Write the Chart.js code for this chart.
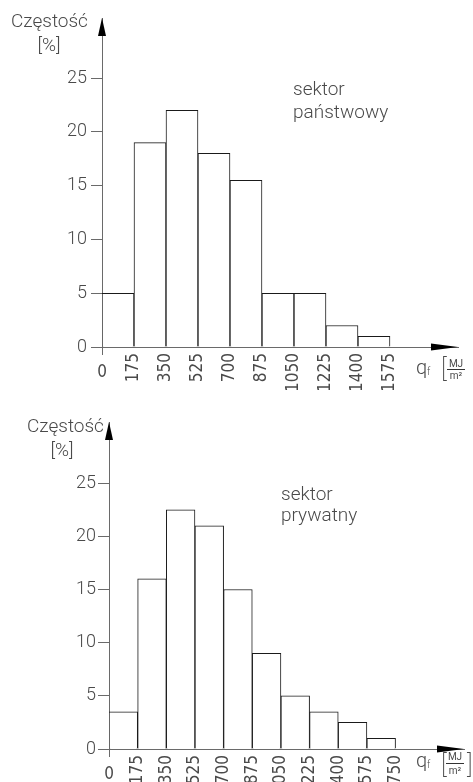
<!DOCTYPE html>
<html>
<head>
<meta charset="utf-8">
<script src="https://cdn.jsdelivr.net/npm/chart.js@4.4.1/dist/chart.umd.min.js"></script>
<style>
  html, body { margin: 0; padding: 0; background: #fff; overflow: hidden; }
  .box { position: absolute; left: 0; width: 473px; }
  #boxTop { top: 0; height: 390px; }
  #boxBottom { top: 390px; height: 392px; }
</style>
</head>
<body>
<div class="box" id="boxTop"><canvas id="chartTop"></canvas></div>
<div class="box" id="boxBottom"><canvas id="chartBottom"></canvas></div>
<script>
// bin edges (MJ/m2) and frequencies (%)
const edgesTop = [0, 175, 350, 525, 700, 875, 1050, 1225, 1400, 1575];
const freqTop = [5, 19, 22, 18, 15.5, 5, 5, 2, 1];
const edgesBottom = [0, 175, 350, 525, 700, 875, 1050, 1225, 1400, 1575, 1750];
const freqBottom = [3.5, 16, 22.5, 21, 15, 9, 5, 3.5, 2.5, 1];
const yTicks = [0, 5, 10, 15, 20, 25];
const yTitle = ['Częstość', '[%]'];
const sectorTop = ['sektor', 'państwowy'];
const sectorBottom = ['sektor', 'prywatny'];
const xSymbol = 'q';
const xSub = 'f';
const unitNum = 'MJ';
const unitDen = 'm²';

const lightFont = '300 19px Roboto, "DejaVu Sans", sans-serif';
const narrowFamily = '"Liberation Sans Narrow", "DejaVu Sans Condensed", Roboto, sans-serif';
const textColor = '#4a4a4a';
const axisColor = '#6a6a6a';

function makeChart(canvas, edges, freq, sector, g) {
    const points = freq.map((v, i) => ({ x: (edges[i] + edges[i + 1]) / 2, y: v }));

    const decor = {
        id: 'decor',
        afterDraw(chart) {
            const ctx = chart.ctx;
            const a = chart.chartArea;
            const xs = chart.scales.x;
            ctx.save();
            // arrows
            ctx.fillStyle = '#000';
            ctx.beginPath();
            ctx.moveTo(a.left, a.top);
            ctx.lineTo(a.left - 4, a.top + 18);
            ctx.lineTo(a.left + 4, a.top + 18);
            ctx.closePath();
            ctx.fill();
            ctx.beginPath();
            ctx.moveTo(a.right, a.bottom);
            ctx.lineTo(a.right - 27, a.bottom - 3.5);
            ctx.lineTo(a.right - 27, a.bottom + 3.5);
            ctx.closePath();
            ctx.fill();

            ctx.fillStyle = textColor;
            ctx.font = lightFont;
            ctx.textBaseline = 'alphabetic';
            ctx.textAlign = 'left';
            ctx.fillText(yTitle[0], g.titleX, g.titleY);
            ctx.textAlign = 'center';
            ctx.fillText(yTitle[1], g.pctX, g.pctY);
            ctx.textAlign = 'left';
            ctx.fillText(sector[0], g.secX, g.secY);
            ctx.fillText(sector[1], g.secX, g.secY + g.secGap);

            // upright zero label
            ctx.font = '17px ' + narrowFamily;
            ctx.textAlign = 'center';
            ctx.textBaseline = 'middle';
            ctx.fillText('0', xs.getPixelForValue(edges[0]), g.zeroY);

            // q_f [MJ/m2]
            ctx.textBaseline = 'alphabetic';
            ctx.textAlign = 'left';
            ctx.font = '300 20px Roboto, sans-serif';
            ctx.fillText(xSymbol, g.qX, g.qY);
            ctx.font = '300 10px Roboto, sans-serif';
            ctx.fillText(xSub, g.qX + 11, g.qY + 1);
            ctx.font = '200 25px Roboto, sans-serif';
            ctx.fillText('[', g.brL, g.brY);
            ctx.fillText(']', g.brR, g.brY);
            ctx.font = '400 10px Roboto, sans-serif';
            ctx.textAlign = 'center';
            ctx.fillText(unitNum, g.fracX, g.numY);
            ctx.fillText(unitDen, g.fracX, g.denY);
            ctx.strokeStyle = '#333';
            ctx.lineWidth = 1;
            ctx.beginPath();
            ctx.moveTo(g.fracX - 9, g.lineY);
            ctx.lineTo(g.fracX + 9, g.lineY);
            ctx.stroke();
            ctx.restore();
        }
    };

    return new Chart(canvas, {
        type: 'bar',
        data: {
            datasets: [{
                data: points,
                backgroundColor: '#fff',
                borderColor: '#1a1a1a',
                borderWidth: 1,
                barPercentage: 1,
                categoryPercentage: 1,
            }],
        },
        options: {
            responsive: true,
            maintainAspectRatio: false,
            animation: false,
            events: [],
            layout: { padding: { left: 0, top: g.top, right: 473 - g.right, bottom: 0 } },
            plugins: { legend: { display: false }, tooltip: { enabled: false } },
            scales: {
                x: {
                    type: 'linear',
                    offset: false,
                    min: 0,
                    max: g.xMax,
                    afterBuildTicks: (s) => { s.ticks = edges.map(v => ({ value: v })); },
                    afterFit: (s) => { s.height = g.h - g.bottom; },
                    grid: {
                        offset: false,
                        drawOnChartArea: false,
                        tickLength: 8,
                        color: (c) => (c.tick && c.tick.value === 0 ? axisColor : 'rgba(0,0,0,0)'),
                    },
                    border: { color: axisColor, width: 1 },
                    ticks: {
                        autoSkip: false,
                        minRotation: 90,
                        maxRotation: 90,
                        padding: -2,
                        color: textColor,
                        font: { family: narrowFamily, size: 17 },
                        callback: (v) => (v === 0 ? '' : String(v)),
                    },
                },
                y: {
                    min: 0,
                    max: g.yMax,
                    afterBuildTicks: (s) => { s.ticks = yTicks.map(v => ({ value: v })); },
                    afterFit: (s) => { s.width = g.left; },
                    grid: { drawOnChartArea: false, tickLength: 11, color: axisColor },
                    border: { color: axisColor, width: 1 },
                    ticks: {
                        padding: g.yPad,
                        color: textColor,
                        font: { family: 'Roboto', weight: 300, size: 18 },
                    },
                },
            },
        },
        plugins: [decor],
    });
}

makeChart(document.getElementById('chartTop'), edgesTop, freqTop, sectorTop, {
    h: 390, left: 102, right: 458, top: 18, bottom: 347,
    xMax: 1947, yMax: 30.58, yPad: 4,
    titleX: 11, titleY: 27, pctX: 49, pctY: 51,
    secX: 293, secY: 95, secGap: 23,
    zeroY: 373, qX: 416, qY: 374,
    brL: 441, brR: 482, brY: 377, fracX: 456, numY: 367, lineY: 369.5, denY: 379,
});

makeChart(document.getElementById('chartBottom'), edgesBottom, freqBottom, sectorBottom, {
    h: 392, left: 109, right: 464, top: 32, bottom: 359,
    xMax: 2168, yMax: 30.76, yPad: 2,
    titleX: 27, titleY: 42, pctX: 62, pctY: 66,
    secX: 281, secY: 110, secGap: 21,
    zeroY: 385, qX: 416, qY: 377,
    brL: 441, brR: 467, brY: 383, fracX: 455, numY: 370, lineY: 373.5, denY: 384,
});
</script>
</body>
</html>
